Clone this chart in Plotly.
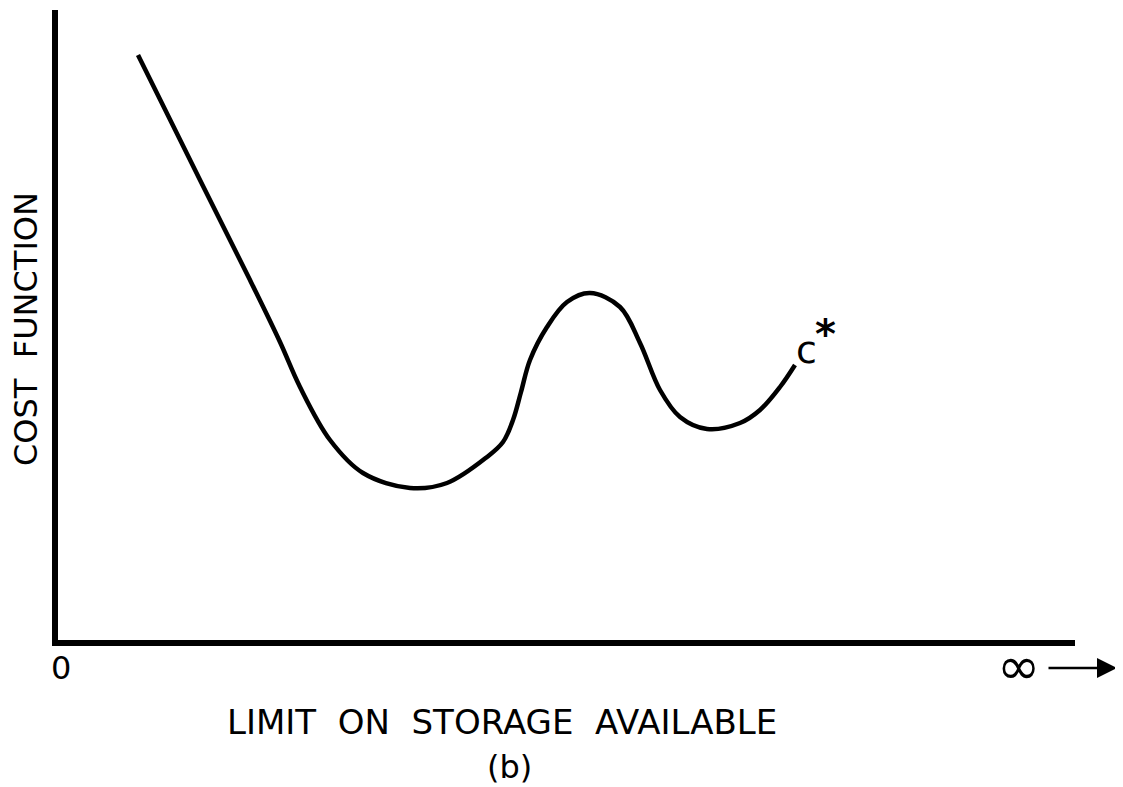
import plotly.graph_objects as go

# Curve values (arbitrary units: x = storage limit, y = cost)
storage = [80, 142, 192, 222, 242, 272, 305, 352, 389, 429, 445, 455, 463, 472, 489, 509,
           532, 562, 582, 602, 622, 649, 682, 702, 722, 737]
cost = [585, 460, 360, 298, 253, 200, 167, 152, 157, 183, 198, 220, 248, 280, 313, 338,
        347, 333, 297, 250, 223, 211, 217, 230, 253, 275]

X_MAX = 1017
Y_MAX = 630
FONT = "DejaVu Sans"
W, H = 1123, 787
PL, PT = 58, 10   # plot-area origin in page pixels
BODY = 8          # default page margin


def px(x):
    return (x - PL) / X_MAX


def py(y):
    return (PT + Y_MAX - y) / Y_MAX


fig = go.Figure()
fig.add_trace(go.Scatter(x=storage, y=cost, mode="lines",
                         line=dict(color="black", width=4.5, shape="spline", smoothing=1.0),
                         hoverinfo="skip", showlegend=False))

fig.update_xaxes(range=[0, X_MAX], showline=True, linecolor="black", linewidth=6,
                 showgrid=False, zeroline=False, showticklabels=False, ticks="")
fig.update_yaxes(range=[0, Y_MAX], showline=True, linecolor="black", linewidth=6,
                 showgrid=False, zeroline=False, showticklabels=False, ticks="")

ann = [
    dict(x=px(61), y=py(668), text="0", font=dict(size=32)),
    dict(x=px(1018), y=py(666), text="∞", font=dict(size=52)),
    dict(x=px(502), y=py(722), text="LIMIT  ON  STORAGE  AVAILABLE", font=dict(size=34)),
    dict(x=px(509), y=py(767), text="(b)", font=dict(size=32)),
    dict(x=px(26), y=py(329), text="COST  FUNCTION", textangle=-90, font=dict(size=32)),
    dict(x=px(806), y=py(350), text="c", font=dict(size=38)),
    dict(x=px(825), y=py(334), text="*", font=dict(size=40, weight="bold")),
]
for a in ann:
    a["font"].update(family=FONT, color="black")
    a.update(xref="paper", yref="paper", showarrow=False,
             xanchor="center", yanchor="middle", borderpad=0)
    fig.add_annotation(**a)

fig.add_annotation(x=px(1117), y=py(668), xref="paper", yref="paper", ax=-70, ay=0,
                   showarrow=True, arrowhead=2, arrowsize=1.6, arrowwidth=2.5,
                   arrowcolor="black", text="")

fig.update_layout(width=W, height=H, plot_bgcolor="white", paper_bgcolor="white",
                  margin=dict(l=PL - BODY, r=W - (PL + X_MAX - BODY), t=PT - BODY,
                              b=H - (PT + Y_MAX - BODY)))

fig.write_html("out.html")
